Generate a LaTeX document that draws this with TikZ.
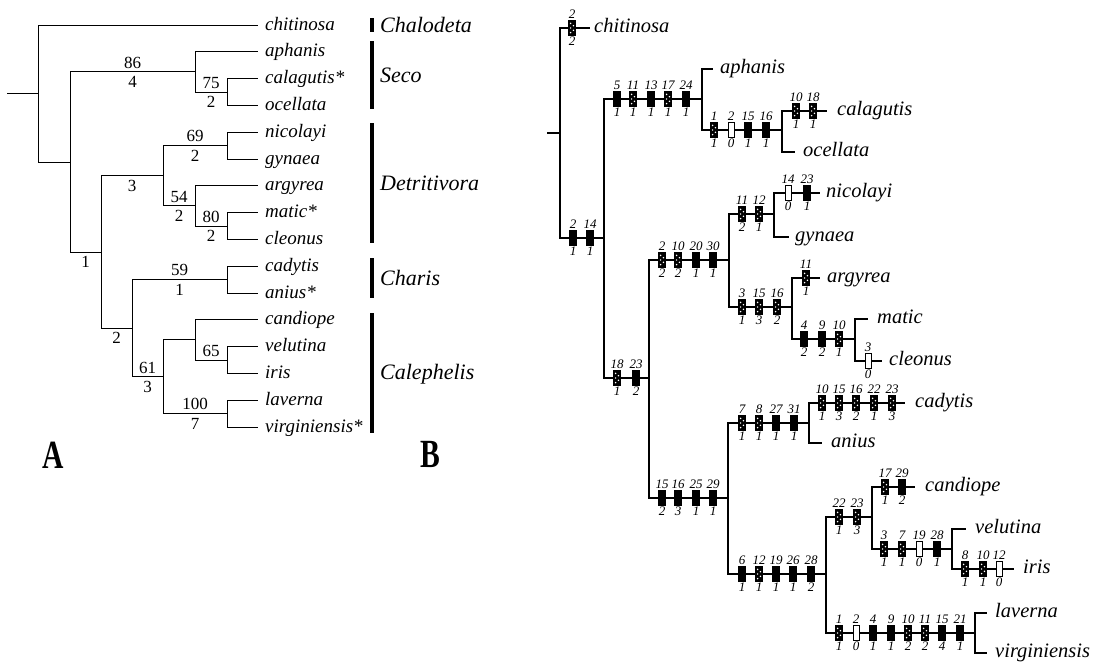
\documentclass[tikz,border=0pt]{standalone}
\usepackage{fontspec}
\setmainfont{Liberation Serif}
\usepackage{graphicx}
\newcommand\taxA{\fontsize{19}{21}\selectfont\itshape}
\newcommand\taxB{\fontsize{20.5}{22}\selectfont\itshape}
\newcommand\grpA{\fontsize{22}{24}\selectfont\itshape}
\newcommand\numA{\fontsize{17}{19}\selectfont}
\newcommand\numB{\fontsize{13}{14}\selectfont\itshape}
\newcommand\panfont{\fontsize{40}{40}\selectfont\bfseries}
\tikzset{
  lineA/.style={line width=1pt},
  lineB/.style={line width=1.8pt},
  grpbar/.style={line width=3.2pt},
  taxa/.style={font=\taxA, anchor=base west, inner sep=0pt},
  taxb/.style={font=\taxB, anchor=base west, inner sep=0pt},
  grp/.style={font=\grpA, anchor=base west, inner sep=0pt},
  anum/.style={font=\numA, inner sep=0pt},
  aab/.style={anum, anchor=south, yshift=3pt},
  abe/.style={anum, anchor=north, yshift=-4pt},
  chr/.style={minimum width=7pt, minimum height=15pt, inner sep=0pt, line width=0.7pt},
  cblack/.style={chr, fill=black, draw=black},
  cwhite/.style={chr, fill=white, draw=black, minimum width=6pt},
  cdot/.style={chr, fill=black, draw=black,
    path picture={\foreach \dx/\dy in {-1.4/4.6, 1.4/2.3, -1.4/0, 1.4/-2.3, -1.4/-4.6}
      \fill[white] ([xshift=\dx pt, yshift=\dy pt]path picture bounding box.center) circle (0.85pt);}},
  blab/.style={font=\numB, inner sep=0pt},
}
\newcommand\charrow[3]{%
  \foreach \x/\t/\a/\b [count=\k] in {#3}
    \node[\t, label={[blab]above:\a}, label={[blab]below:\b}] (#1\k) at (\x,#2) {};}
\begin{document}
\begin{tikzpicture}[x=1pt,y=-1pt,label distance=1pt]
\useasboundingbox (0,0) rectangle (1103,664);

% ================= Panel A =================
\coordinate (a0) at (7,93.5);
\coordinate (aR) at (38,93.5);
\coordinate (a1) at (70,162);
\coordinate (a2) at (195,71.9);
\coordinate (a3) at (227,92);
\coordinate (a4) at (101,252);
\coordinate (a5) at (163,175.75);
\coordinate (a6) at (227,145.6);
\coordinate (a7) at (195,205.9);
\coordinate (a8) at (227,226);
\coordinate (a9) at (132,328.2);
\coordinate (a10) at (227,279.6);
\coordinate (a11) at (163,376.75);
\coordinate (a12) at (195,339.9);
\coordinate (a13) at (227,360);
\coordinate (a14) at (227,413.6);
\foreach \n/\yy in {chi/25, aph/51.8, cal/78.6, oce/105.4, nic/132.2, gyn/159, arg/185.8, mat/212.6, cle/239.4, cad/266.2, ani/293, can/319.8, vel/346.6, iri/373.4, lav/400.2, vir/427}
  \coordinate (la\n) at (258,\yy);

\begin{scope}[lineA]
\draw (a0) -- (aR);
\draw (aR) |- (lachi);
\draw (aR) |- (a1);
\draw (a1) |- (a2) node[aab,pos=.75] (n86) {86} node[abe,pos=.75] (n4) {4};
\draw (a1) |- (a4) node[abe,pos=.75] (n1) {1};
\draw (a2) |- (laaph);
\draw (a2) |- (a3) node[aab,pos=.75] (n75) {75} node[abe,pos=.75] (n2a) {2};
\draw (a3) |- (lacal);
\draw (a3) |- (laoce);
\draw (a4) |- (a5) node[abe,pos=.75] (n3) {3};
\draw (a4) |- (a9) node[abe,pos=.75] (n2b) {2};
\draw (a5) |- (a6) node[aab,pos=.75] (n69) {69} node[abe,pos=.75] (n2c) {2};
\draw (a5) |- (a7) node[aab,pos=.75] (n54) {54} node[abe,pos=.75] (n2d) {2};
\draw (a6) |- (lanic);
\draw (a6) |- (lagyn);
\draw (a7) |- (laarg);
\draw (a7) |- (a8) node[aab,pos=.75] (n80) {80} node[abe,pos=.75] (n2e) {2};
\draw (a8) |- (lamat);
\draw (a8) |- (lacle);
\draw (a9) |- (a10) node[aab,pos=.75] (n59) {59} node[abe,pos=.75] (n1b) {1};
\draw (a9) |- (a11) node[aab,pos=.75] (n61) {61} node[abe,pos=.75] (n3b) {3};
\draw (a10) |- (lacad);
\draw (a10) |- (laani);
\draw (a11) |- (a12);
\draw (a11) |- (a14) node[aab,pos=.75] (n100) {100} node[abe,pos=.75] (n7) {7};
\draw (a12) |- (lacan);
\draw (a12) |- (a13) node[aab,pos=.75] (n65) {65};
\draw (a13) |- (lavel);
\draw (a13) |- (lairi);
\draw (a14) |- (lalav);
\draw (a14) |- (lavir);
\end{scope}

\foreach \n/\yy/\txt in {chi/25/chitinosa, aph/51.8/aphanis, cal/78.6/calagutis*, oce/105.4/ocellata, nic/132.2/nicolayi, gyn/159/gynaea, arg/185.8/argyrea, mat/212.6/matic*, cle/239.4/cleonus, cad/266.2/cadytis, ani/293/anius*, can/319.8/candiope, vel/346.6/velutina, iri/373.4/iris, lav/400.2/laverna, vir/427/virginiensis*}
  \node[taxa] (ta\n) at (265,\yy+5) {\txt};

% group bars
\draw[grpbar] (372,18) coordinate (g1a) -- (372,32) coordinate (g1b);
\draw[grpbar] (372,41) coordinate (g2a) -- (372,109) coordinate (g2b);
\draw[grpbar] (372,123) coordinate (g3a) -- (372,243) coordinate (g3b);
\draw[grpbar] (372,258) coordinate (g4a) -- (372,298) coordinate (g4b);
\draw[grpbar] (372,313) coordinate (g5a) -- (372,433) coordinate (g5b);
\node[grp] (gChal) at (380,32) {Chalodeta};
\node[grp] (gSeco) at (380,82) {Seco};
\node[grp] (gDetr) at (380,190) {Detritivora};
\node[grp] (gChar) at (380,285) {Charis};
\node[grp] (gCale) at (380,379) {Calephelis};

\node[inner sep=0pt] (panA) at (53.5,455.5) {\scalebox{0.74}[1]{\panfont A}};
\node[inner sep=0pt] (panB) at (430,454.5) {\scalebox{0.74}[1]{\panfont B}};

% ================= Panel B =================
\coordinate (b0) at (547,133);
\coordinate (bR) at (560,133);
\coordinate (bA) at (604,238);
\coordinate (bS) at (702,99);
\coordinate (bS2) at (782,130);
\coordinate (bB) at (649,378);
\coordinate (bD) at (729,260);
\coordinate (bN) at (774,214);
\coordinate (bM) at (792,307);
\coordinate (bMC) at (855,339);
\coordinate (bC) at (728,498);
\coordinate (bCh) at (809,423);
\coordinate (bCa) at (826,574);
\coordinate (bCv) at (872,517);
\coordinate (bVI) at (952,549);
\coordinate (bLV) at (975,633);
\coordinate (lbchi) at (590,28);
\coordinate (lbaph) at (713,69);
\coordinate (lbcal) at (827,111);
\coordinate (lboce) at (795,152);
\coordinate (lbnic) at (820,193);
\coordinate (lbgyn) at (789,237);
\coordinate (lbarg) at (820,278);
\coordinate (lbmat) at (868,319);
\coordinate (lbcle) at (882,361);
\coordinate (lbcad) at (905,403);
\coordinate (lbani) at (822,443);
\coordinate (lbcan) at (915,487);
\coordinate (lbvel) at (966,529);
\coordinate (lbiri) at (1014,569);
\coordinate (lblav) at (987,613);
\coordinate (lbvir) at (987,653);

\begin{scope}[lineB]
\draw (b0) -- (bR);
\draw (bR) |- (lbchi);
\draw (bR) |- (bA);
\draw (bA) |- (bS);
\draw (bA) |- (bB);
\draw (bS) |- (lbaph);
\draw (bS) |- (bS2);
\draw (bS2) |- (lbcal);
\draw (bS2) |- (lboce);
\draw (bB) |- (bD);
\draw (bB) |- (bC);
\draw (bD) |- (bN);
\draw (bD) |- (bM);
\draw (bN) |- (lbnic);
\draw (bN) |- (lbgyn);
\draw (bM) |- (lbarg);
\draw (bM) |- (bMC);
\draw (bMC) |- (lbmat);
\draw (bMC) |- (lbcle);
\draw (bC) |- (bCh);
\draw (bC) |- (bCa);
\draw (bCh) |- (lbcad);
\draw (bCh) |- (lbani);
\draw (bCa) |- (bCv);
\draw (bCa) |- (bLV);
\draw (bCv) |- (lbcan);
\draw (bCv) |- (bVI);
\draw (bVI) |- (lbvel);
\draw (bVI) |- (lbiri);
\draw (bLV) |- (lblav);
\draw (bLV) |- (lbvir);
\end{scope}

% character boxes
\charrow{kchi}{28}{572/cdot/2/2}
\charrow{kA}{238}{573/cblack/2/1, 590/cblack/14/1}
\charrow{kS}{99}{617/cblack/5/1, 633/cdot/11/1, 651/cblack/13/1, 668/cdot/17/1, 686/cblack/24/1}
\charrow{kSt}{130}{714/cdot/1/1, 731/cwhite/2/0, 748/cblack/15/1, 766/cblack/16/1}
\charrow{kcal}{111}{796/cdot/10/1, 813/cdot/18/1}
\charrow{kB}{378}{617/cdot/18/1, 636/cblack/23/2}
\charrow{kD}{260}{662/cdot/2/2, 678/cdot/10/2, 696/cblack/20/1, 713/cblack/30/1}
\charrow{kN}{214}{742/cdot/11/2, 759/cdot/12/1}
\charrow{knic}{193}{788/cwhite/14/0, 807/cblack/23/1}
\charrow{kM}{307}{742/cdot/3/1, 759/cdot/15/3, 777/cdot/16/2}
\charrow{karg}{278}{806/cdot/11/1}
\charrow{kMC}{339}{804/cblack/4/2, 822/cblack/9/2, 839/cdot/10/1}
\charrow{kcle}{361}{868/cwhite/3/0}
\charrow{kC}{498}{662/cblack/15/2, 678/cblack/16/3, 696/cblack/25/1, 713/cblack/29/1}
\charrow{kCh}{423}{742/cdot/7/1, 759/cdot/8/1, 776/cblack/27/1, 794/cblack/31/1}
\charrow{kcad}{403}{822/cdot/10/1, 839/cdot/15/3, 856/cdot/16/2, 874/cdot/22/1, 892/cdot/23/3}
\charrow{kCa}{574}{742/cblack/6/1, 759/cdot/12/1, 776/cblack/19/1, 793/cblack/26/1, 811/cblack/28/2}
\charrow{kCv}{517}{839/cdot/22/1, 857/cdot/23/3}
\charrow{kcan}{487}{885/cdot/17/1, 902/cblack/29/2}
\charrow{kVI}{549}{884/cdot/3/1, 902/cdot/7/1, 919/cwhite/19/0, 937/cblack/28/1}
\charrow{kiri}{569}{965/cdot/8/1, 983/cdot/10/1, 999/cwhite/12/0}
\charrow{kLV}{633}{839/cdot/1/1, 856/cwhite/2/0, 873/cblack/4/1, 891/cblack/9/1, 908/cdot/10/2, 925/cdot/11/2, 942/cblack/15/4, 960/cblack/21/1}

% taxon names B
\node[taxb] (tbchi) at (594,32.5) {chitinosa};
\node[taxb] (tbaph) at (720,73.5) {aphanis};
\node[taxb] (tbcal) at (837,115.5) {calagutis};
\node[taxb] (tboce) at (803,156.5) {ocellata};
\node[taxb] (tbnic) at (826,197.5) {nicolayi};
\node[taxb] (tbgyn) at (795,241.5) {gynaea};
\node[taxb] (tbarg) at (827,282.5) {argyrea};
\node[taxb] (tbmat) at (877,323.5) {matic};
\node[taxb] (tbcle) at (889,365.5) {cleonus};
\node[taxb] (tbcad) at (915,407.5) {cadytis};
\node[taxb] (tbani) at (831,447.5) {anius};
\node[taxb] (tbcan) at (925,491.5) {candiope};
\node[taxb] (tbvel) at (975,533.5) {velutina};
\node[taxb] (tbiri) at (1023,573.5) {iris};
\node[taxb] (tblav) at (995,617.5) {laverna};
\node[taxb] (tbvir) at (995,657.5) {virginiensis};
\end{tikzpicture}
\end{document}
